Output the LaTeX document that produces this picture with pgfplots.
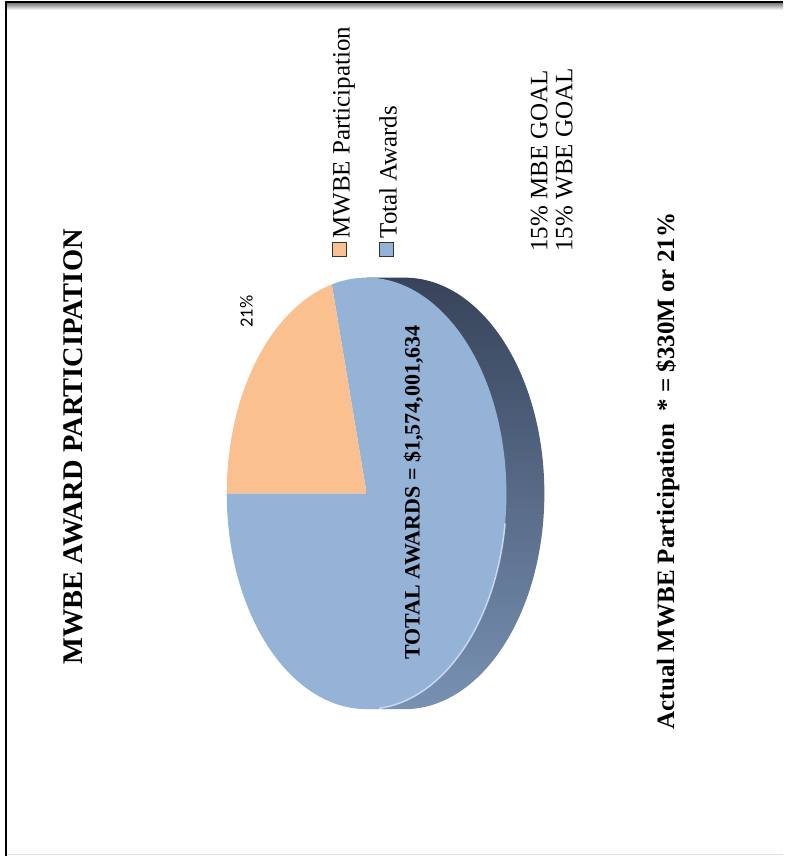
\documentclass[border=0pt]{standalone}
\usepackage{pgfplots}
\pgfplotsset{compat=1.18}
\usepackage{pgfplotstable}
\usepackage{fontspec}
\setmainfont{Liberation Serif}
\newfontfamily\calfont{Carlito}
\definecolor{mwbe}{HTML}{FAC090}
\definecolor{tot}{HTML}{95B3D7}
\definecolor{sidetop}{HTML}{37435A}
\definecolor{sidemid}{HTML}{43536A}
\definecolor{sidebot}{HTML}{7891B3}
\definecolor{rim}{HTML}{C6D9F1}
\pgfplotstableread{
label value
MWBE 21
Total 79
}\pietable
\pgfplotstablegetelem{0}{value}\of\pietable
\pgfmathsetmacro\angA{180-3.6*\pgfplotsretval}
\pgfplotstablegetelem{1}{value}\of\pietable
\pgfmathsetmacro\angB{\angA-3.6*\pgfplotsretval}
\def\cx{367}\def\cy{363}\def\rx{140}\def\ry{216}\def\dd{38}
\begin{document}
\begin{tikzpicture}
\begin{axis}[x=1pt,y=1pt,xmin=0,xmax=784,ymin=0,ymax=857,hide axis,clip=false,scale only axis]
\addplot[draw=none,forget plot] coordinates {(0,0) (784,857)};
% frame
\shade[top color=black!45,bottom color=white] (axis cs:7,853) rectangle (axis cs:784,847);
\draw[line width=2pt] (axis cs:6,855) -- (axis cs:784,855);
\draw[line width=2pt] (axis cs:6,856) -- (axis cs:6,0);
\draw[black!12,line width=1pt] (axis cs:7,1.5) -- (axis cs:784,1.5);
% side of the pie
\shade[top color=sidetop,middle color=sidemid,bottom color=sidebot]
  (axis cs:\cx,\cy+\ry) -- (axis cs:\cx+\dd,\cy+\ry)
  arc[start angle=90,end angle=-90,x radius=\rx pt,y radius=\ry pt]
  -- (axis cs:\cx,\cy-\ry) -- cycle;
% slices
\fill[tot] (axis cs:\cx,\cy) -- ++(\angA:\rx pt and \ry pt)
  arc[start angle=\angA,end angle=\angB,x radius=\rx pt,y radius=\ry pt] -- cycle;
\fill[mwbe] (axis cs:\cx,\cy) -- ++(180:\rx pt and \ry pt)
  arc[start angle=180,end angle=\angA,x radius=\rx pt,y radius=\ry pt] -- cycle;
% rim highlight
\draw[rim,line width=1.5pt] (axis cs:\cx,\cy) ++(-8:\rx pt and \ry pt)
  arc[start angle=-8,end angle=-85,x radius=\rx pt,y radius=\ry pt];
% labels
\node[rotate=90,anchor=base,font=\fontsize{28.5}{34}\selectfont\bfseries] at (axis cs:83,409.5) {MWBE AWARD PARTICIPATION};
\node[rotate=90,anchor=base,font=\calfont\fontsize{18.5}{22}\selectfont] at (axis cs:253,545) {21\%};
\node[rotate=90,anchor=base,font=\fontsize{22}{26}\selectfont\bfseries] at (axis cs:420,364) {TOTAL AWARDS = \$1,574,001,634};
% legend
\filldraw[fill=mwbe,draw=black!80,line width=1pt] (axis cs:333,614) rectangle (axis cs:347,600);
\filldraw[fill=tot,draw=black!80,line width=1pt] (axis cs:380,614) rectangle (axis cs:394,600);
\node[rotate=90,anchor=base west,inner sep=0pt,font=\fontsize{25}{30}\selectfont] at (axis cs:350,618) {MWBE Participation};
\node[rotate=90,anchor=base west,inner sep=0pt,font=\fontsize{25}{30}\selectfont] at (axis cs:397,618) {Total Awards};
% goals
\node[rotate=90,anchor=base west,inner sep=0pt,font=\fontsize{25}{30}\selectfont] at (axis cs:548,605) {15\% MBE GOAL};
\node[rotate=90,anchor=base west,inner sep=0pt,font=\fontsize{25}{30}\selectfont] at (axis cs:573,605) {15\% WBE GOAL};
\node[rotate=90,anchor=base,font=\fontsize{25}{30}\selectfont\bfseries] at (axis cs:675,385.5) {Actual MWBE Participation\ \ * = \$330M or 21\%};
\end{axis}
\end{tikzpicture}
\end{document}
